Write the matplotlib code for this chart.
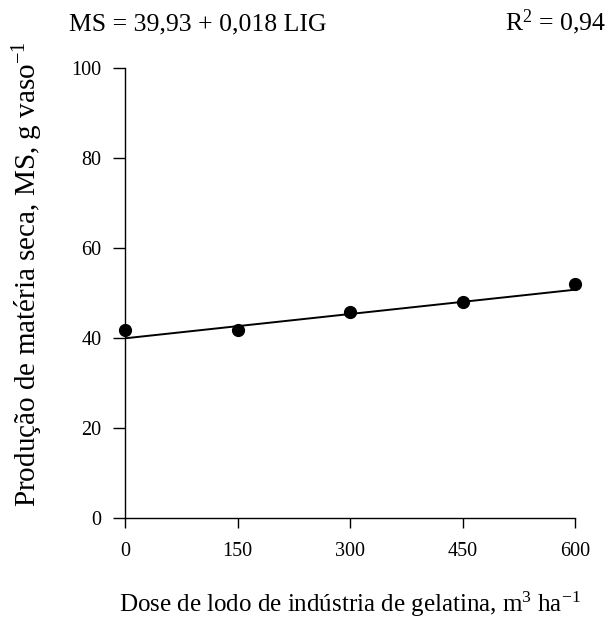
import numpy as np
import matplotlib.pyplot as plt

# Dry matter production vs. gelatin-industry sludge dose
doses = [0, 150, 300, 450, 600]
ms_obs = [41.7, 41.7, 45.7, 48.0, 52.0]

# Fitted regression: MS = 39.93 + 0.018 LIG
b0, b1 = 39.93, 0.018
r2 = 0.94

plt.rcParams['font.family'] = ['Liberation Serif', 'DejaVu Serif']
plt.rcParams['mathtext.fontset'] = 'custom'
plt.rcParams['mathtext.rm'] = 'Liberation Serif'
plt.rcParams['mathtext.it'] = 'Liberation Serif:italic'

W, H = 611, 623
fig = plt.figure(figsize=(W / 100, H / 100), dpi=100)
ax = fig.add_axes([125 / W, 1 - 518 / H, 450 / W, 450 / H])

xs = np.linspace(0, 600, 50)
ax.plot(xs, b0 + b1 * xs, color='black', lw=1.4, zorder=2)
ax.plot(doses, ms_obs, 'o', color='black', ms=8.5, zorder=3, clip_on=False)

ax.set_xlim(0, 600)
ax.set_ylim(0, 100)
ax.set_xticks([0, 150, 300, 450, 600])
ax.set_yticks([0, 20, 40, 60, 80, 100])
for s in ['top', 'right']:
    ax.spines[s].set_visible(False)
for s in ['left', 'bottom']:
    ax.spines[s].set_linewidth(1.0)
ax.tick_params(axis='x', direction='out', length=7, width=1.0, labelsize=14.5, pad=10)
ax.tick_params(axis='y', direction='out', length=9, width=1.0, labelsize=14.5, pad=8)

ax.set_xlabel(r'Dose de lodo de indústria de gelatina, m$^{3}$ ha$^{-1}$',
              fontsize=18, va='baseline')
ax.xaxis.set_label_coords(0.5, (518 - 612) / 450)
ax.set_ylabel(r'Produção de matéria seca, MS, g vaso$^{-1}$',
              fontsize=21, va='center')
ax.yaxis.set_label_coords((28 - 125) / 450, (518 - 274) / 450)

eq = f'MS = {b0:.2f} + {b1:.3f} LIG'.replace('.', ',')
fig.text(69 / W, 1 - 30 / H, eq, fontsize=18.5, ha='left', va='baseline')
fig.text(606 / W, 1 - 30 / H, r'R$^{2}$ = ' + f'{r2:.2f}'.replace('.', ','),
         fontsize=18.5, ha='right', va='baseline')

fig.savefig('out.png', dpi=100)
